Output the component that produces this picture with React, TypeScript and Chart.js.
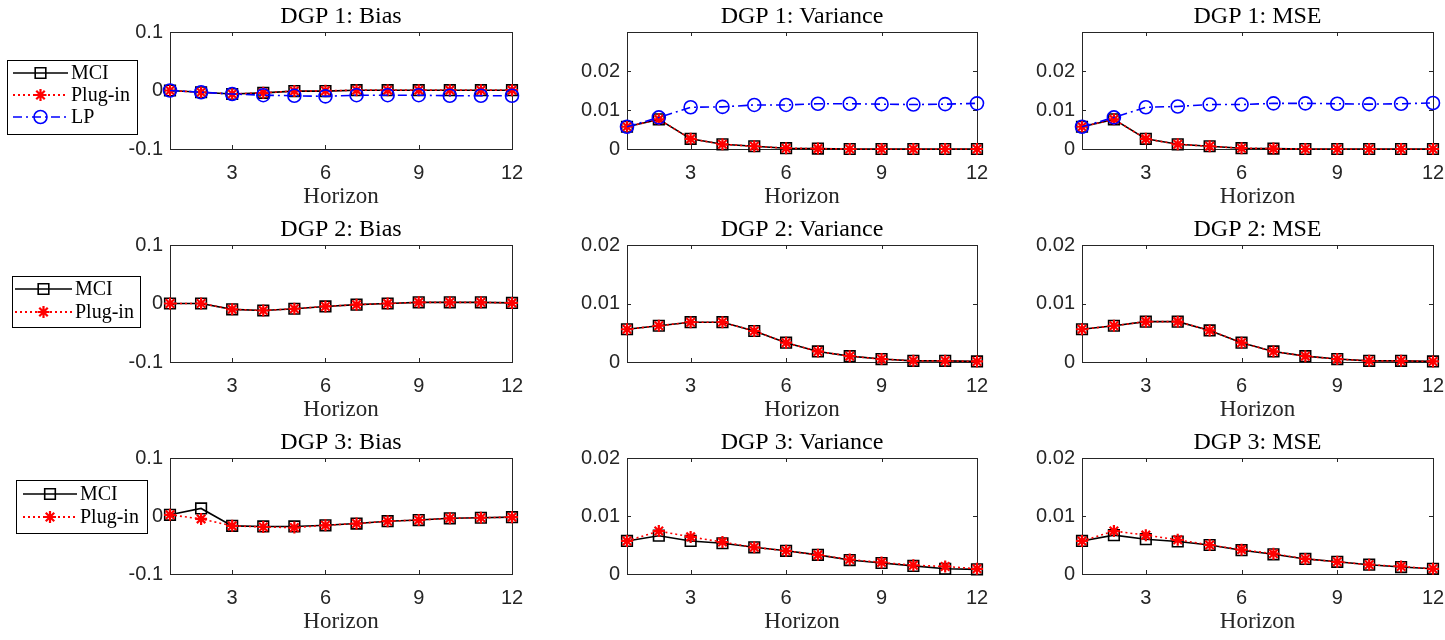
import React, { useEffect, useRef } from 'react';
import { Chart, registerables } from 'chart.js';

Chart.register(...registerables);

// ---------------- data ----------------
const horizons = [1, 2, 3, 4, 5, 6, 7, 8, 9, 10, 11, 12];
const xTickValues = [3, 6, 9, 12];
const xTickLabels = ['3', '6', '9', '12'];
const biasTickValues = [-0.1, 0, 0.1];
const biasTickLabels = ['-0.1', '0', '0.1'];
const varTickValues = [0, 0.01, 0.02];
const varTickLabels = ['0', '0.01', '0.02'];
const biasRange = [-0.1, 0.1];
const dgp1VarRange = [0, 0.03];
const varRange = [0, 0.02];

const seriesNames = ['MCI', 'Plug-in', 'LP'];

const dgp1BiasMCI = [0, -0.003, -0.006, -0.004, -0.001, -0.001, 0.0005, 0.0005, 0.0005, 0.0005, 0.0005, 0.0005];
const dgp1BiasPlugin = [0, -0.003, -0.006, -0.004, -0.001, -0.0005, 0.0006, 0.0006, 0.0006, 0.0006, 0.0006, 0.0006];
const dgp1BiasLP = [0, -0.003, -0.006, -0.008, -0.009, -0.010, -0.008, -0.008, -0.008, -0.009, -0.009, -0.009];

const dgp1VarMCI = [0.0057, 0.0076, 0.0026, 0.0012, 0.0007, 0.0002, 0.0001, 0, 0, 0, 0, 0];
const dgp1VarPlugin = [0.0057, 0.0076, 0.0026, 0.0012, 0.0007, 0.0002, 0.0001, 0, 0, 0, 0, 0];
const dgp1VarLP = [0.0057, 0.0081, 0.0107, 0.0108, 0.0113, 0.0113, 0.0116, 0.0116, 0.0115, 0.0114, 0.0115, 0.0117];

const dgp1MseMCI = [0.0057, 0.0076, 0.0026, 0.0012, 0.0007, 0.0002, 0.0001, 0, 0, 0, 0, 0];
const dgp1MsePlugin = [0.0057, 0.0076, 0.0026, 0.0012, 0.0007, 0.0002, 0.0001, 0, 0, 0, 0, 0];
const dgp1MseLP = [0.0057, 0.0081, 0.0107, 0.0109, 0.0114, 0.0114, 0.0117, 0.0117, 0.0116, 0.0115, 0.0116, 0.0118];

const dgp2BiasMCI = [0, 0, -0.010, -0.012, -0.009, -0.005, -0.002, 0, 0.002, 0.002, 0.002, 0.001];
const dgp2BiasPlugin = [0, 0, -0.010, -0.012, -0.009, -0.005, -0.002, 0, 0.002, 0.002, 0.002, 0.001];

const dgp2VarMCI = [0.0056, 0.0062, 0.0068, 0.0068, 0.0053, 0.0033, 0.0018, 0.0010, 0.0005, 0.0002, 0.0002, 0.0001];
const dgp2VarPlugin = [0.0056, 0.0062, 0.0068, 0.0068, 0.0053, 0.0033, 0.0018, 0.0010, 0.0005, 0.0002, 0.0002, 0.0001];

const dgp2MseMCI = [0.0056, 0.0062, 0.0069, 0.0069, 0.0054, 0.0033, 0.0018, 0.0010, 0.0005, 0.0002, 0.0002, 0.0001];
const dgp2MsePlugin = [0.0056, 0.0062, 0.0069, 0.0069, 0.0054, 0.0033, 0.0018, 0.0010, 0.0005, 0.0002, 0.0002, 0.0001];

const dgp3BiasMCI = [0.002, 0.013, -0.017, -0.018, -0.018, -0.016, -0.013, -0.009, -0.007, -0.004, -0.003, -0.002];
const dgp3BiasPlugin = [0.002, -0.005, -0.017, -0.019, -0.020, -0.016, -0.013, -0.009, -0.007, -0.004, -0.003, -0.002];

const dgp3VarMCI = [0.0057, 0.0066, 0.0057, 0.0053, 0.0046, 0.0040, 0.0033, 0.0024, 0.0019, 0.0014, 0.0009, 0.0008];
const dgp3VarPlugin = [0.0057, 0.0074, 0.0064, 0.0055, 0.0046, 0.0040, 0.0033, 0.0025, 0.0020, 0.0015, 0.0013, 0.0009];

const dgp3MseMCI = [0.0057, 0.0067, 0.0060, 0.0056, 0.0050, 0.0041, 0.0034, 0.0026, 0.0021, 0.0016, 0.0012, 0.0009];
const dgp3MsePlugin = [0.0057, 0.0074, 0.0067, 0.0059, 0.0050, 0.0042, 0.0035, 0.0026, 0.0021, 0.0016, 0.0013, 0.0009];

const panelTitles = [
  ['DGP 1: Bias', 'DGP 1: Variance', 'DGP 1: MSE'],
  ['DGP 2: Bias', 'DGP 2: Variance', 'DGP 2: MSE'],
  ['DGP 3: Bias', 'DGP 3: Variance', 'DGP 3: MSE'],
];
const xAxisTitle = 'Horizon';

// ---------------- styles & layout ----------------
const STYLES: Record<string, any> = {
  MCI: { color: '#000000', dash: [], point: 'rect', radius: 7.5, width: 1.6, order: 2 },
  'Plug-in': { color: '#ff0000', dash: [2, 3], point: 'star', radius: 6, width: 2.2, order: 1 },
  LP: { color: '#0000ff', dash: [9, 4, 2, 4], point: 'circle', radius: 6.5, width: 1.6, order: 0 },
};

const COL_CANVAS = [
  { x: 0, w: 560 },
  { x: 560, w: 460 },
  { x: 1020, w: 425 },
];
const ROW_CANVAS = [
  { y: 0, h: 213 },
  { y: 213, h: 213 },
  { y: 426, h: 214 },
];
const COL_BOX = [
  { l: 170, r: 512 },
  { l: 627, r: 977 },
  { l: 1082, r: 1433 },
];
const ROW_BOX = [
  { t: 32, b: 149 },
  { t: 245, b: 362 },
  { t: 458, b: 574 },
];
const LEGENDS = [
  { x: 7, y: 60, w: 130, h: 74, lx1: 13, lx2: 68, tx: 71, ys: [73, 95, 117] },
  { x: 12, y: 276, w: 128, h: 51, lx1: 15, lx2: 72, tx: 75, ys: [289, 312] },
  { x: 16, y: 480, w: 131, h: 53, lx1: 23, lx2: 77, tx: 80, ys: [494, 517] },
];

const Y_AXIS_W = 60;
const X_AXIS_H = 30;
const TICK_FONT = { family: '"Liberation Sans", Arial, sans-serif', size: 20 };
const SERIF = '"Liberation Serif", "Times New Roman", serif';
const AXIS_COLOR = '#262626';

type PanelDef = {
  row: number;
  col: number;
  title: string;
  range: number[];
  yTicks: number[];
  yLabels: string[];
  series: { name: string; values: number[] }[];
};

const panels: PanelDef[] = [
  { row: 0, col: 0, title: panelTitles[0][0], range: biasRange, yTicks: biasTickValues, yLabels: biasTickLabels,
    series: [{ name: seriesNames[0], values: dgp1BiasMCI }, { name: seriesNames[1], values: dgp1BiasPlugin }, { name: seriesNames[2], values: dgp1BiasLP }] },
  { row: 0, col: 1, title: panelTitles[0][1], range: dgp1VarRange, yTicks: varTickValues, yLabels: varTickLabels,
    series: [{ name: seriesNames[0], values: dgp1VarMCI }, { name: seriesNames[1], values: dgp1VarPlugin }, { name: seriesNames[2], values: dgp1VarLP }] },
  { row: 0, col: 2, title: panelTitles[0][2], range: dgp1VarRange, yTicks: varTickValues, yLabels: varTickLabels,
    series: [{ name: seriesNames[0], values: dgp1MseMCI }, { name: seriesNames[1], values: dgp1MsePlugin }, { name: seriesNames[2], values: dgp1MseLP }] },
  { row: 1, col: 0, title: panelTitles[1][0], range: biasRange, yTicks: biasTickValues, yLabels: biasTickLabels,
    series: [{ name: seriesNames[0], values: dgp2BiasMCI }, { name: seriesNames[1], values: dgp2BiasPlugin }] },
  { row: 1, col: 1, title: panelTitles[1][1], range: varRange, yTicks: varTickValues, yLabels: varTickLabels,
    series: [{ name: seriesNames[0], values: dgp2VarMCI }, { name: seriesNames[1], values: dgp2VarPlugin }] },
  { row: 1, col: 2, title: panelTitles[1][2], range: varRange, yTicks: varTickValues, yLabels: varTickLabels,
    series: [{ name: seriesNames[0], values: dgp2MseMCI }, { name: seriesNames[1], values: dgp2MsePlugin }] },
  { row: 2, col: 0, title: panelTitles[2][0], range: biasRange, yTicks: biasTickValues, yLabels: biasTickLabels,
    series: [{ name: seriesNames[0], values: dgp3BiasMCI }, { name: seriesNames[1], values: dgp3BiasPlugin }] },
  { row: 2, col: 1, title: panelTitles[2][1], range: varRange, yTicks: varTickValues, yLabels: varTickLabels,
    series: [{ name: seriesNames[0], values: dgp3VarMCI }, { name: seriesNames[1], values: dgp3VarPlugin }] },
  { row: 2, col: 2, title: panelTitles[2][2], range: varRange, yTicks: varTickValues, yLabels: varTickLabels,
    series: [{ name: seriesNames[0], values: dgp3MseMCI }, { name: seriesNames[1], values: dgp3MsePlugin }] },
];

function drawMarker(ctx: CanvasRenderingContext2D, kind: string, x: number, y: number, r: number) {
  ctx.beginPath();
  if (kind === 'rect') {
    const s = r * Math.SQRT1_2;
    ctx.rect(x - s, y - s, 2 * s, 2 * s);
  } else if (kind === 'circle') {
    ctx.arc(x, y, r, 0, Math.PI * 2);
  } else if (kind === 'star') {
    const d = r * Math.SQRT1_2;
    ctx.moveTo(x - r, y); ctx.lineTo(x + r, y);
    ctx.moveTo(x, y - r); ctx.lineTo(x, y + r);
    ctx.moveTo(x - d, y - d); ctx.lineTo(x + d, y + d);
    ctx.moveTo(x - d, y + d); ctx.lineTo(x + d, y - d);
  }
  ctx.stroke();
}

function Panel({ p }: { p: PanelDef }) {
  const ref = useRef<HTMLCanvasElement>(null);
  const cc = COL_CANVAS[p.col];
  const rc = ROW_CANVAS[p.row];
  const cb = COL_BOX[p.col];
  const rb = ROW_BOX[p.row];

  useEffect(() => {
    const canvas = ref.current;
    if (!canvas) return;

    const boxPlugin = {
      id: 'matlabBox',
      beforeDatasetsDraw(chart: any) {
        const { ctx, chartArea: a, scales } = chart;
        ctx.save();
        ctx.strokeStyle = AXIS_COLOR;
        ctx.lineWidth = 1;
        ctx.setLineDash([]);
        ctx.strokeRect(Math.round(a.left) + 0.5, Math.round(a.top) + 0.5, Math.round(a.right - a.left), Math.round(a.bottom - a.top));
        const tl = 4;
        ctx.beginPath();
        xTickValues.forEach((v) => {
          const px = Math.round(scales.x.getPixelForValue(v)) + 0.5;
          ctx.moveTo(px, a.bottom); ctx.lineTo(px, a.bottom - tl);
          ctx.moveTo(px, a.top); ctx.lineTo(px, a.top + tl);
        });
        p.yTicks.forEach((v) => {
          const py = Math.round(scales.y.getPixelForValue(v)) + 0.5;
          ctx.moveTo(a.left, py); ctx.lineTo(a.left + tl, py);
          ctx.moveTo(a.right, py); ctx.lineTo(a.right - tl, py);
        });
        ctx.stroke();
        ctx.restore();
      },
      afterDraw(chart: any) {
        const { ctx, chartArea: a } = chart;
        ctx.save();
        const cx = (a.left + a.right) / 2;
        ctx.fillStyle = '#000';
        ctx.textAlign = 'center';
        ctx.textBaseline = 'middle';
        ctx.font = `24px ${SERIF}`;
        ctx.fillText(p.title, cx, a.top - 15);
        ctx.fillStyle = AXIS_COLOR;
        ctx.font = `23px ${SERIF}`;
        ctx.fillText(xAxisTitle, cx, a.bottom + 48);

        if (p.col === 0) {
          const lg = LEGENDS[p.row];
          const oy = rc.y;
          const ox = cc.x;
          ctx.fillStyle = '#ffffff';
          ctx.fillRect(lg.x - ox, lg.y - oy, lg.w, lg.h);
          ctx.strokeStyle = '#000';
          ctx.lineWidth = 1;
          ctx.setLineDash([]);
          ctx.strokeRect(lg.x - ox + 0.5, lg.y - oy + 0.5, lg.w, lg.h);
          chart.data.datasets.forEach((ds: any, i: number) => {
            const st = STYLES[ds.label];
            const y = lg.ys[i] - oy;
            ctx.strokeStyle = st.color;
            ctx.lineWidth = st.width;
            ctx.setLineDash(st.dash);
            ctx.beginPath();
            ctx.moveTo(lg.lx1 - ox, y);
            ctx.lineTo(lg.lx2 - ox, y);
            ctx.stroke();
            ctx.setLineDash([]);
            drawMarker(ctx, st.point, (lg.lx1 + lg.lx2) / 2 - ox, y, st.radius);
            ctx.fillStyle = '#000';
            ctx.textAlign = 'left';
            ctx.textBaseline = 'middle';
            ctx.font = `20px ${SERIF}`;
            ctx.fillText(ds.label, lg.tx - ox, y + 1);
          });
        }
        ctx.restore();
      },
    };

    const datasets = p.series.map((s) => {
      const st = STYLES[s.name];
      return {
        label: s.name,
        data: horizons.map((h, i) => ({ x: h, y: s.values[i] })),
        borderColor: st.color,
        backgroundColor: 'rgba(0,0,0,0)',
        borderWidth: s.name === 'Plug-in' ? 1.6 : st.width,
        borderDash: st.dash,
        pointStyle: st.point,
        pointRadius: st.radius,
        pointBorderColor: st.color,
        pointBackgroundColor: 'rgba(0,0,0,0)',
        pointBorderWidth: st.width,
        tension: 0,
        fill: false,
        clip: false,
        order: st.order,
      };
    });

    const padding = {
      left: cb.l - cc.x - Y_AXIS_W,
      right: cc.x + cc.w - cb.r,
      top: rb.t - rc.y,
      bottom: rc.y + rc.h - rb.b - X_AXIS_H,
    };

    const chart = new Chart(canvas, {
      type: 'line',
      data: { datasets: datasets as any },
      plugins: [boxPlugin],
      options: {
        animation: false,
        responsive: false,
        devicePixelRatio: 1,
        layout: { padding },
        plugins: { legend: { display: false }, title: { display: false }, tooltip: { enabled: false } },
        events: [],
        scales: {
          x: {
            type: 'linear',
            min: horizons[0],
            max: horizons[horizons.length - 1],
            grid: { display: false, drawTicks: false },
            border: { display: false },
            ticks: {
              font: TICK_FONT,
              color: AXIS_COLOR,
              padding: 12,
              maxRotation: 0,
              autoSkip: false,
              callback: (_v: any, i: number) => xTickLabels[i],
            },
            afterBuildTicks: (scale: any) => {
              scale.ticks = xTickValues.map((v) => ({ value: v }));
            },
            afterFit: (scale: any) => {
              scale.height = X_AXIS_H;
              scale.paddingLeft = 0;
              scale.paddingRight = 0;
            },
          },
          y: {
            type: 'linear',
            min: p.range[0],
            max: p.range[1],
            grid: { display: false, drawTicks: false },
            border: { display: false },
            ticks: {
              font: TICK_FONT,
              color: AXIS_COLOR,
              padding: 7,
              autoSkip: false,
              callback: (_v: any, i: number) => p.yLabels[i],
            },
            afterBuildTicks: (scale: any) => {
              scale.ticks = p.yTicks.map((v) => ({ value: v }));
            },
            afterFit: (scale: any) => {
              scale.width = Y_AXIS_W;
              scale.paddingTop = 0;
              scale.paddingBottom = 0;
            },
          },
        },
      } as any,
    });
    return () => chart.destroy();
  }, []);

  return (
    <canvas
      ref={ref}
      width={cc.w}
      height={rc.h}
      style={{ position: 'absolute', left: cc.x, top: rc.y, width: cc.w, height: rc.h, display: 'block' }}
    />
  );
}

export default function App() {
  return (
    <div style={{ position: 'absolute', left: 0, top: 0, width: 1445, height: 640, background: '#ffffff', overflow: 'hidden' }}>
      {panels.map((p) => (
        <Panel key={`${p.row}-${p.col}`} p={p} />
      ))}
    </div>
  );
}
